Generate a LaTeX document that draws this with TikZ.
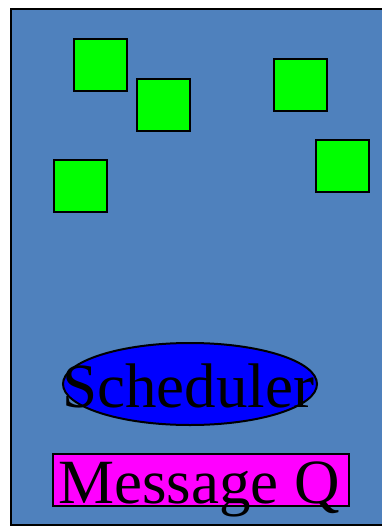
\documentclass[tikz,border=0pt]{standalone}
\usepackage{fontspec}
\setmainfont{Liberation Serif}
\usetikzlibrary{shapes.geometric}
\definecolor{bgblue}{RGB}{79,129,189}
\definecolor{boxgreen}{RGB}{0,255,0}
\definecolor{schedblue}{RGB}{0,0,255}
\definecolor{mqmagenta}{RGB}{255,0,255}
\begin{document}
\begin{tikzpicture}[x=1pt,y=-1pt,
  box/.style={draw=black,line width=2pt,fill=boxgreen,minimum width=53pt,minimum height=52pt,inner sep=0pt,anchor=north west},
  bigtext/.style={inner sep=0pt,anchor=base,font=\fontsize{63}{63}\selectfont}]
\useasboundingbox (0,0) rectangle (381,526);
\node[draw=black,line width=2pt,fill=bgblue,minimum width=390pt,minimum height=516pt,inner sep=0pt,anchor=north west] (frame) at (10,8) {};
\node[box] (b1) at (72.5,38) {};
\node[box] (b2) at (136,78) {};
\node[box] (b3) at (273,58) {};
\node[box] (b4) at (315,139) {};
\node[box] (b5) at (52.5,159) {};
\node[ellipse,draw=black,line width=2pt,fill=schedblue,minimum width=254pt,minimum height=82pt,inner sep=0pt] (sched) at (190,384) {};
\node[bigtext] (schedtext) at (188,407) {Scheduler};
\node[draw=black,line width=2pt,fill=mqmagenta,minimum width=296pt,minimum height=52pt,inner sep=0pt] (mq) at (200.5,480) {};
\node[bigtext] (mqtext) at (199,503) {Message Q};
\end{tikzpicture}
\end{document}
